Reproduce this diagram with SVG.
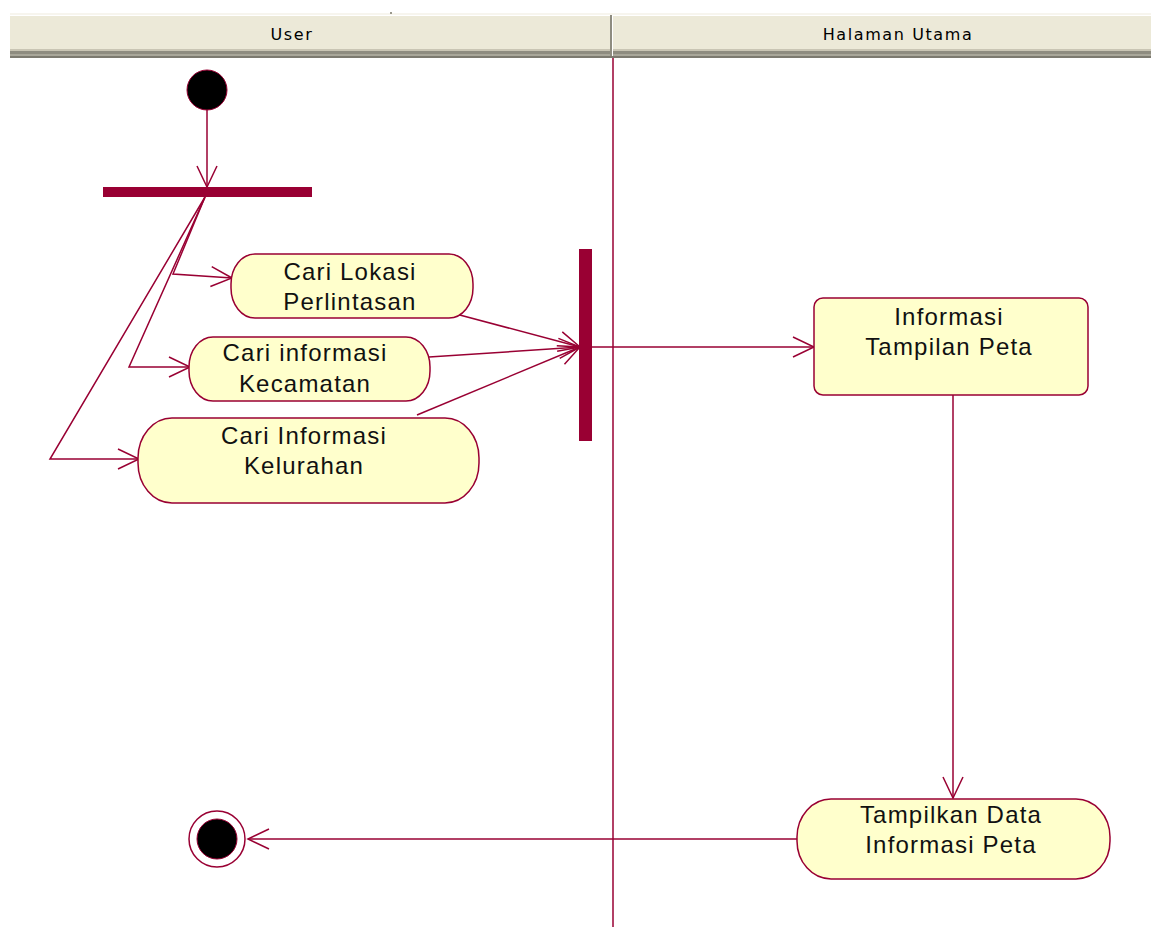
<svg xmlns="http://www.w3.org/2000/svg" width="1151" height="927" viewBox="0 0 1151 927">
  <style>
    .lane-title { font-family: "DejaVu Sans", Tahoma, sans-serif; font-size: 16px; letter-spacing: 1.6px; fill: #000; text-anchor: middle; }
    .act { fill: #FFFFCC; stroke: #990033; stroke-width: 1.5; }
    .label { font-family: "Liberation Sans", Arial, sans-serif; font-size: 24px; letter-spacing: 1.2px; fill: #111; text-anchor: middle; }
    .flow { fill: none; stroke: #990033; stroke-width: 1.5; }
    .bar { fill: #990033; }
  </style>
  <defs>
    <marker id="open" viewBox="0 0 24 24" refX="22" refY="12" markerWidth="24" markerHeight="24" markerUnits="userSpaceOnUse" orient="auto">
      <path d="M1,2 L22,12 L1,22" fill="none" stroke="#990033" stroke-width="1.5"/>
    </marker>
  </defs>

  <rect width="1151" height="927" fill="#fff"/>

  <!-- swimlane header -->
  <g id="header">
    <rect x="10" y="13" width="1141" height="45" fill="#ECE9D8"/>
    <rect x="10" y="13" width="1141" height="2" fill="#F7F5EE"/>
    <rect x="10" y="15" width="1141" height="1" fill="#FFFFFF"/>
    <rect x="10" y="49" width="1141" height="2" fill="#C9C5B4"/>
    <rect x="10" y="51" width="1141" height="3" fill="#8E8C80"/>
    <rect x="10" y="54" width="1141" height="2" fill="#A9A79A"/>
    <rect x="10" y="56" width="1141" height="2" fill="#7C7A70"/>
    <rect x="610" y="15" width="2" height="41" fill="#8E8C80"/>
    <rect x="612" y="15" width="1" height="41" fill="#FFFFFF"/>
    <rect x="390" y="12" width="2" height="2" fill="#9A988C"/>
    <text class="lane-title" x="292" y="40">User</text>
    <text class="lane-title" x="898" y="40">Halaman Utama</text>
  </g>

  <!-- lane divider -->
  <line x1="613" y1="58" x2="613" y2="927" stroke="#990033" stroke-width="1.5"/>

  <!-- connectors -->
  <g id="connectors">
    <line class="flow" x1="207" y1="110" x2="207" y2="187" marker-end="url(#open)"/>
    <polyline class="flow" points="205,197 173,274 232,278" marker-end="url(#open)"/>
    <polyline class="flow" points="205,197 129,367 190,367" marker-end="url(#open)"/>
    <polyline class="flow" points="205,197 50,459 139,459" marker-end="url(#open)"/>
    <line class="flow" x1="456" y1="314" x2="580" y2="347" marker-end="url(#open)"/>
    <line class="flow" x1="429" y1="357" x2="580" y2="347" marker-end="url(#open)"/>
    <line class="flow" x1="417" y1="415" x2="580" y2="347" marker-end="url(#open)"/>
    <line class="flow" x1="592" y1="347" x2="814" y2="347" marker-end="url(#open)"/>
    <line class="flow" x1="953" y1="395" x2="953" y2="798" marker-end="url(#open)"/>
    <line class="flow" x1="797" y1="839" x2="248" y2="839" marker-end="url(#open)"/>
  </g>

  <!-- initial state -->
  <g id="start">
    <circle cx="207" cy="90" r="20" fill="#000" stroke="#990033" stroke-width="1"/>
  </g>

  <!-- fork bar -->
  <g id="fork">
    <rect class="bar" x="103" y="187" width="209" height="10"/>
  </g>

  <!-- join bar -->
  <g id="join">
    <rect class="bar" x="579" y="249" width="13" height="192"/>
  </g>

  <g id="cari-lokasi">
    <rect class="act" x="231" y="254" width="242" height="64" rx="24" ry="30"/>
    <text class="label" x="350" y="280">Cari Lokasi</text>
    <text class="label" x="350" y="310">Perlintasan</text>
  </g>

  <g id="cari-kecamatan">
    <rect class="act" x="189" y="337" width="241" height="64" rx="24" ry="30"/>
    <text class="label" x="305" y="361">Cari informasi</text>
    <text class="label" x="305" y="392">Kecamatan</text>
  </g>

  <g id="cari-kelurahan">
    <rect class="act" x="138" y="418" width="341" height="85" rx="34" ry="40"/>
    <text class="label" x="304" y="444">Cari Informasi</text>
    <text class="label" x="304" y="474">Kelurahan</text>
  </g>

  <g id="informasi-peta">
    <rect class="act" x="814" y="298" width="274" height="97" rx="9" ry="9"/>
    <text class="label" x="949" y="325">Informasi</text>
    <text class="label" x="949" y="355">Tampilan Peta</text>
  </g>

  <g id="tampilkan-data">
    <rect class="act" x="797" y="799" width="313" height="80" rx="34" ry="38"/>
    <text class="label" x="951" y="823">Tampilkan Data</text>
    <text class="label" x="951" y="853">Informasi Peta</text>
  </g>

  <!-- final state -->
  <g id="end">
    <circle cx="217" cy="839" r="28" fill="#fff" stroke="#990033" stroke-width="1.5"/>
    <circle cx="217" cy="839" r="20" fill="#000" stroke="#990033" stroke-width="1"/>
  </g>
</svg>
